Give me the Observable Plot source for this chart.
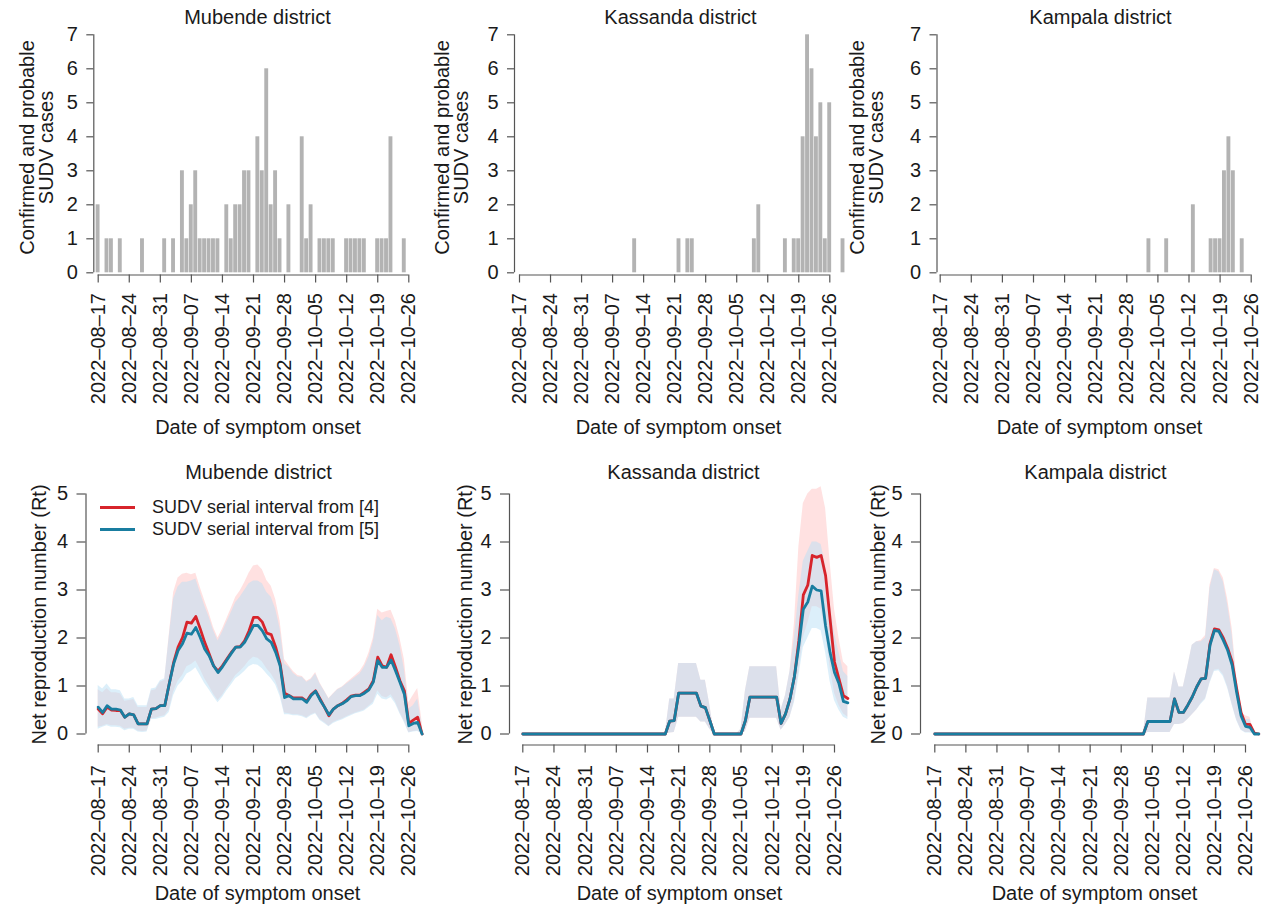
<!DOCTYPE html>
<html>
<head>
<meta charset="utf-8">
<script src="https://cdn.jsdelivr.net/npm/d3@7"></script>
<script src="https://cdn.jsdelivr.net/npm/@observablehq/plot@0.6"></script>
<style>
  body { margin: 0; background: #fff; }
  #root { position: relative; width: 1261px; height: 907px; overflow: hidden; background: #fff;
          font-family: "Liberation Sans", Arial, Helvetica, sans-serif; }
  #root svg { position: absolute; overflow: visible; }
  .legend { position: absolute; font-size: 18px; line-height: 22px; color: #1a1a1a; }
  .legend .row { display: flex; align-items: center; white-space: nowrap; }
  .legend .sw { display: inline-block; width: 35px; height: 3px; margin-right: 17px; }
</style>
</head>
<body>
<div id="root"></div>
<script>
// ---------------- DATA ----------------
const districts = ["Mubende district", "Kassanda district", "Kampala district"];
const tickLabels = ["2022-08-17","2022-08-24","2022-08-31","2022-09-07","2022-09-14","2022-09-21",
                    "2022-09-28","2022-10-05","2022-10-12","2022-10-19","2022-10-26"];
const seriesNames = ["SUDV serial interval from [4]", "SUDV serial interval from [5]"];

// Confirmed and probable cases by date of symptom onset
const mubendeCaseDates = ["2022-08-17","2022-08-19","2022-08-20","2022-08-22","2022-08-27","2022-09-01",
  "2022-09-03","2022-09-05","2022-09-06","2022-09-07","2022-09-08","2022-09-09","2022-09-10","2022-09-11",
  "2022-09-12","2022-09-13","2022-09-15","2022-09-16","2022-09-17","2022-09-18","2022-09-19","2022-09-20",
  "2022-09-22","2022-09-23","2022-09-24","2022-09-25","2022-09-26","2022-09-27","2022-09-29","2022-10-02",
  "2022-10-03","2022-10-04","2022-10-06","2022-10-07","2022-10-08","2022-10-09","2022-10-12","2022-10-13",
  "2022-10-14","2022-10-15","2022-10-16","2022-10-19","2022-10-20","2022-10-21","2022-10-22","2022-10-25"];
const mubendeCaseCounts = [2,1,1,1,1,1,
  1,3,1,2,3,1,1,1,
  1,1,2,1,2,2,3,3,
  4,3,6,2,3,1,2,4,
  1,2,1,1,1,1,1,1,
  1,1,1,1,1,1,4,1];

const kassandaCaseDates = ["2022-09-12","2022-09-22","2022-09-24","2022-09-25","2022-10-09","2022-10-10",
  "2022-10-16","2022-10-18","2022-10-19","2022-10-20","2022-10-21","2022-10-22","2022-10-23","2022-10-24",
  "2022-10-25","2022-10-26","2022-10-29"];
const kassandaCaseCounts = [1,1,1,1,1,2,
  1,1,1,4,7,6,4,5,
  1,5,1];

const kampalaCaseDates = ["2022-10-03","2022-10-07","2022-10-13","2022-10-17","2022-10-18","2022-10-19",
  "2022-10-20","2022-10-21","2022-10-22","2022-10-24"];
const kampalaCaseCounts = [1,1,2,1,1,1,3,4,3,1];

// Daily Rt estimates 2022-08-17 .. 2022-10-29 (74 days)
const rtFirstDate = "2022-08-17";
const rtLastDate = "2022-10-29";

// Mubende
const mubendeRed = [0.52,0.42,0.56,0.50,0.49,0.49,0.35,0.42,0.40,0.21,
  0.21,0.21,0.52,0.53,0.59,0.59,1.04,1.49,1.81,2.01,
  2.33,2.31,2.45,2.19,1.91,1.67,1.42,1.31,1.42,1.56,
  1.70,1.81,1.82,1.94,2.15,2.43,2.43,2.33,2.10,2.07,
  1.81,1.46,0.85,0.80,0.75,0.75,0.75,0.68,0.82,0.90,
  0.73,0.56,0.38,0.52,0.59,0.64,0.71,0.79,0.81,0.81,
  0.87,0.94,1.11,1.60,1.42,1.39,1.65,1.39,1.11,0.90,
  0.22,0.29,0.35,0.00];
const mubendeRedLo = [0.14,0.16,0.20,0.17,0.17,0.16,0.10,0.12,0.12,0.06,
  0.05,0.06,0.32,0.33,0.36,0.38,0.50,0.88,1.10,1.22,
  1.40,1.45,1.52,1.35,1.15,1.00,0.83,0.70,0.80,0.95,
  1.08,1.22,1.30,1.40,1.52,1.60,1.58,1.50,1.36,1.25,
  1.10,0.85,0.44,0.42,0.40,0.40,0.38,0.34,0.40,0.44,
  0.30,0.24,0.16,0.24,0.28,0.31,0.36,0.40,0.44,0.47,
  0.50,0.58,0.66,0.90,0.78,0.75,0.82,0.67,0.45,0.27,
  0.03,0.05,0.07,0.00];
const mubendeRedHi = [0.92,0.86,0.95,0.86,0.86,0.84,0.68,0.70,0.72,0.55,
  0.55,0.55,0.90,0.92,1.08,1.12,2.05,2.95,3.25,3.33,
  3.35,3.32,3.35,3.05,2.78,2.52,2.22,2.00,2.18,2.40,
  2.62,2.85,2.98,3.15,3.35,3.50,3.52,3.42,3.20,3.08,
  2.80,2.35,1.55,1.42,1.30,1.22,1.20,1.10,1.15,1.28,
  1.06,0.90,0.74,0.84,0.93,0.98,1.06,1.14,1.22,1.30,
  1.45,1.68,2.00,2.60,2.52,2.55,2.58,2.35,2.00,1.55,
  0.65,0.80,0.95,0.25];
const mubendeBlue = [0.56,0.45,0.59,0.52,0.52,0.50,0.35,0.42,0.40,0.21,
  0.21,0.21,0.52,0.53,0.59,0.59,1.04,1.46,1.74,1.88,
  2.10,2.08,2.22,2.01,1.77,1.63,1.42,1.28,1.40,1.54,
  1.68,1.81,1.81,1.91,2.08,2.26,2.26,2.15,1.98,1.91,
  1.70,1.42,0.76,0.80,0.73,0.73,0.73,0.66,0.80,0.89,
  0.71,0.56,0.40,0.52,0.59,0.63,0.69,0.78,0.80,0.80,
  0.85,0.92,1.08,1.53,1.39,1.39,1.54,1.32,1.08,0.83,
  0.17,0.22,0.24,0.00];
const mubendeBlueLo = [0.10,0.14,0.17,0.14,0.14,0.13,0.07,0.10,0.10,0.04,
  0.03,0.04,0.30,0.30,0.33,0.35,0.45,0.80,1.00,1.10,
  1.25,1.30,1.38,1.22,1.05,0.92,0.78,0.65,0.76,0.90,
  1.02,1.15,1.22,1.30,1.40,1.45,1.43,1.36,1.25,1.15,
  1.02,0.78,0.40,0.40,0.38,0.38,0.36,0.32,0.38,0.42,
  0.28,0.22,0.15,0.22,0.26,0.29,0.34,0.38,0.42,0.45,
  0.48,0.55,0.62,0.83,0.73,0.71,0.76,0.63,0.42,0.24,
  0.02,0.04,0.05,0.00];
const mubendeBlueHi = [1.01,0.94,1.04,0.92,0.92,0.90,0.73,0.73,0.76,0.59,
  0.59,0.59,0.94,0.96,1.11,1.15,2.01,2.81,3.06,3.16,
  3.16,3.19,3.23,2.95,2.67,2.43,2.15,1.94,2.12,2.33,
  2.53,2.74,2.85,2.99,3.13,3.19,3.19,3.13,2.95,2.85,
  2.60,2.19,1.46,1.39,1.26,1.19,1.18,1.08,1.13,1.25,
  1.04,0.89,0.73,0.83,0.92,0.97,1.04,1.11,1.18,1.25,
  1.39,1.60,1.91,2.47,2.36,2.43,2.40,2.19,1.84,1.35,
  0.52,0.59,0.73,0.17];

// Kassanda
const kassandaRed = [0,0,0,0,0,0,0,0,0,0,
  0,0,0,0,0,0,0,0,0,0,
  0,0,0,0,0,0,0,0,0,0,
  0,0,0,0.27,0.28,0.85,0.85,0.85,0.85,0.85,
  0.58,0.55,0.28,0,0,0,0,0,0,0,
  0.28,0.77,0.77,0.77,0.77,0.77,0.77,0.77,0.22,0.42,
  0.73,1.20,1.95,2.90,3.10,3.72,3.68,3.72,3.30,2.40,
  1.50,1.15,0.80,0.74];
const kassandaRedLo = [0,0,0,0,0,0,0,0,0,0,
  0,0,0,0,0,0,0,0,0,0,
  0,0,0,0,0,0,0,0,0,0,
  0,0,0,0.02,0.03,0.35,0.35,0.35,0.35,0.35,
  0.25,0.25,0.10,0,0,0,0,0,0,0,
  0.05,0.33,0.33,0.33,0.33,0.33,0.33,0.33,0.08,0.20,
  0.35,0.70,1.30,2.00,2.30,2.65,2.65,2.60,2.10,1.40,
  0.85,0.60,0.42,0.35];
const kassandaRedHi = [0,0,0,0,0,0,0,0,0,0,
  0,0,0,0,0,0,0,0,0,0,
  0,0,0,0,0,0,0,0,0,0,
  0,0,0,0.73,0.73,1.47,1.47,1.47,1.47,1.47,
  1.12,1.12,0.60,0,0,0,0,0,0,0.10,
  0.90,1.40,1.40,1.40,1.40,1.40,1.40,1.40,0.50,0.80,
  1.30,2.30,3.90,4.80,5.00,5.10,5.10,5.15,4.70,3.60,
  2.60,2.00,1.50,1.40];
const kassandaBlue = [0,0,0,0,0,0,0,0,0,0,
  0,0,0,0,0,0,0,0,0,0,
  0,0,0,0,0,0,0,0,0,0,
  0,0,0,0.27,0.28,0.85,0.85,0.85,0.85,0.85,
  0.58,0.55,0.28,0,0,0,0,0,0,0,
  0.28,0.77,0.77,0.77,0.77,0.77,0.77,0.77,0.22,0.42,
  0.73,1.20,1.85,2.60,2.75,3.08,3.00,2.98,2.25,1.70,
  1.28,1.05,0.68,0.65];
const kassandaBlueLo = [0,0,0,0,0,0,0,0,0,0,
  0,0,0,0,0,0,0,0,0,0,
  0,0,0,0,0,0,0,0,0,0,
  0,0,0,0.02,0.03,0.35,0.35,0.35,0.35,0.35,
  0.25,0.25,0.10,0,0,0,0,0,0,0,
  0.05,0.33,0.33,0.33,0.33,0.33,0.33,0.33,0.08,0.20,
  0.35,0.65,1.20,1.80,2.00,2.20,2.20,2.15,1.70,1.10,
  0.70,0.50,0.35,0.30];
const kassandaBlueHi = [0,0,0,0,0,0,0,0,0,0,
  0,0,0,0,0,0,0,0,0,0,
  0,0,0,0,0,0,0,0,0,0,
  0,0,0,0.73,0.73,1.47,1.47,1.47,1.47,1.47,
  1.12,1.12,0.60,0,0,0,0,0,0,0.10,
  0.90,1.40,1.40,1.40,1.40,1.40,1.40,1.40,0.50,0.80,
  1.30,2.00,2.90,3.60,3.80,4.00,4.00,3.95,3.50,2.70,
  2.10,1.70,1.30,1.20];

// Kampala
const kampalaRed = [0,0,0,0,0,0,0,0,0,0,
  0,0,0,0,0,0,0,0,0,0,
  0,0,0,0,0,0,0,0,0,0,
  0,0,0,0,0,0,0,0,0,0,
  0,0,0,0,0,0,0,0,0.26,0.26,
  0.26,0.26,0.26,0.26,0.73,0.45,0.45,0.60,0.77,0.98,
  1.15,1.16,1.88,2.19,2.17,2.00,1.78,1.50,0.95,0.45,
  0.20,0.20,0.02,0.00];
const kampalaRedLo = [0,0,0,0,0,0,0,0,0,0,
  0,0,0,0,0,0,0,0,0,0,
  0,0,0,0,0,0,0,0,0,0,
  0,0,0,0,0,0,0,0,0,0,
  0,0,0,0,0,0,0,0,0.03,0.03,
  0.03,0.03,0.03,0.03,0.20,0.20,0.22,0.30,0.40,0.50,
  0.64,0.74,1.08,1.33,1.35,1.24,0.98,0.62,0.30,0.09,
  0.03,0.03,0.00,0.00];
const kampalaRedHi = [0,0,0,0,0,0,0,0,0,0,
  0,0,0,0,0,0,0,0,0,0,
  0,0,0,0,0,0,0,0,0,0,
  0,0,0,0,0,0,0,0,0,0,
  0,0,0,0,0,0,0,0,0.75,0.75,
  0.75,0.75,0.75,0.75,1.29,0.98,0.98,1.40,1.85,1.92,
  1.95,2.05,3.10,3.45,3.42,3.25,2.80,2.20,1.20,0.45,
  0.38,0.35,0.00,0.00];
const kampalaBlue = [0,0,0,0,0,0,0,0,0,0,
  0,0,0,0,0,0,0,0,0,0,
  0,0,0,0,0,0,0,0,0,0,
  0,0,0,0,0,0,0,0,0,0,
  0,0,0,0,0,0,0,0,0.26,0.26,
  0.26,0.26,0.26,0.26,0.73,0.45,0.45,0.60,0.77,0.98,
  1.15,1.16,1.85,2.16,2.14,1.95,1.74,1.43,0.87,0.38,
  0.16,0.14,0.00,0.00];
const kampalaBlueLo = [0,0,0,0,0,0,0,0,0,0,
  0,0,0,0,0,0,0,0,0,0,
  0,0,0,0,0,0,0,0,0,0,
  0,0,0,0,0,0,0,0,0,0,
  0,0,0,0,0,0,0,0,0.03,0.03,
  0.03,0.03,0.03,0.03,0.20,0.20,0.22,0.30,0.40,0.50,
  0.62,0.72,1.05,1.30,1.32,1.20,0.95,0.60,0.28,0.08,
  0.02,0.02,0.00,0.00];
const kampalaBlueHi = [0,0,0,0,0,0,0,0,0,0,
  0,0,0,0,0,0,0,0,0,0,
  0,0,0,0,0,0,0,0,0,0,
  0,0,0,0,0,0,0,0,0,0,
  0,0,0,0,0,0,0,0,0.75,0.75,
  0.75,0.75,0.75,0.75,1.29,0.98,0.98,1.40,1.85,1.92,
  1.92,2.00,3.03,3.42,3.38,3.17,2.68,2.06,1.08,0.38,
  0.30,0.30,0.00,0.00];

// ---------------- STYLE / LAYOUT ----------------
const RED = "#d7242b";
const BLUE = "#197da0";
const BAR = "#b3b3b3";
const AX = "#555555";
const TXT = "#1a1a1a";
const FONT = "'Liberation Sans', Arial, Helvetica, sans-serif";

const parse = d3.utcParse("%Y-%m-%d");
const fmtTick = d => d3.utcFormat("%Y-%m-%d")(d).replace(/-/g, "\u2013");
const START = parse(tickLabels[0]);
const END = parse(tickLabels[tickLabels.length - 1]);
const tickDates = tickLabels.map(parse);
const rtDates = d3.utcDay.range(parse(rtFirstDate), d3.utcDay.offset(parse(rtLastDate), 1));

const root = document.getElementById("root");

const topRow = {top: 0, h: 440, yTop: 34.3, y0: 272.3, xAxisY: 274.5, yMax: 7, ytick: 7, xpad: 10,
  titleY: 17, xlabY: 427, ylabY: 147, ylab: "Confirmed and probable\nSUDV cases"};
const botRow = {top: 440, h: 467, yTop: 493.5, y0: 733.5, xAxisY: 744.5, yMax: 5, ytick: 9, xpad: 12,
  titleY: 472, xlabY: 893, ylabY: 614, ylab: "Net reproduction number (Rt)"};

const topCols = [
  {left: 0,   w: 420, yAxisX: 93.3,  x0: 97.7,  x70: 408.3,  titleX: 257,  xlabX: 257.5, ylabX: 36.5},
  {left: 420, w: 420, yAxisX: 514,   x0: 519,   x70: 829.3,  titleX: 680,  xlabX: 678,   ylabX: 451.5},
  {left: 840, w: 421, yAxisX: 936.5, x0: 939.7, x70: 1250.7, titleX: 1100, xlabX: 1099,  ylabX: 866.5}
];
const botCols = [
  {left: 0,   w: 420, yAxisX: 85.5,  x0: 97.7,  x70: 408.3,  titleX: 258,  xlabX: 257,  ylabX: 39},
  {left: 420, w: 420, yAxisX: 509,   x0: 522.3, x70: 834,    titleX: 683,  xlabX: 679,  ylabX: 465},
  {left: 840, w: 421, yAxisX: 920,   x0: 934.3, x70: 1245,   titleX: 1095, xlabX: 1094, ylabX: 878}
];

function makePanel(row, col, title, dataMarks) {
  const g = {...row, ...col};
  const fcx = (g.yAxisX + g.x70) / 2;        // frame center x (absolute)
  const fcy = (g.yTop + g.xAxisY) / 2;       // frame center y (absolute)
  const svg = Plot.plot({
    width: g.w,
    height: g.h,
    marginLeft: g.yAxisX - g.left,
    marginRight: g.left + g.w - g.x70,
    marginTop: g.yTop - g.top,
    marginBottom: g.top + g.h - g.xAxisY,
    x: {type: "utc", domain: [START, END], insetLeft: g.x0 - g.yAxisX},
    y: {domain: [0, g.yMax], insetBottom: g.xAxisY - g.y0},
    style: {fontFamily: FONT, fontSize: "20px", color: TXT, background: "transparent", overflow: "visible"},
    marks: [
      ...dataMarks,
      Plot.ruleX([START], {y1: () => 0, y2: () => g.yMax, dx: g.yAxisX - g.x0, stroke: AX, strokeWidth: 1.2}),
      Plot.ruleY([0], {x1: () => START, x2: () => END, dy: g.xAxisY - g.y0, stroke: AX, strokeWidth: 1.2}),
      Plot.axisY({ticks: d3.range(g.yMax + 1), tickSize: g.ytick, tickPadding: 9,
                  tickFormat: d => String(d), label: null, stroke: AX, strokeWidth: 1.2, fontSize: 20}),
      Plot.axisX({ticks: tickDates, tickSize: 8, tickPadding: g.xpad, tickRotate: -90,
                  tickFormat: fmtTick, label: null, stroke: AX, strokeWidth: 1.2, fontSize: 20}),
      Plot.text([title], {frameAnchor: "top", dx: g.titleX - fcx, dy: g.titleY - g.yTop,
                          textAnchor: "middle", lineAnchor: "middle", fontSize: 20, fill: TXT}),
      Plot.text(["Date of symptom onset"], {frameAnchor: "bottom", dx: g.xlabX - fcx, dy: g.xlabY - g.xAxisY,
                          textAnchor: "middle", lineAnchor: "middle", fontSize: 20, fill: TXT}),
      Plot.text([g.ylab], {frameAnchor: "left", rotate: -90, dx: g.ylabX - g.yAxisX, dy: g.ylabY - fcy,
                          textAnchor: "middle", lineAnchor: "middle", fontSize: 20, lineHeight: 0.95, fill: TXT})
    ]
  });
  svg.style.left = g.left + "px";
  svg.style.top = g.top + "px";
  root.appendChild(svg);
}

function barMarks(dates, counts) {
  const rows = dates.map((d, i) => ({date: parse(d), n: counts[i]}));
  return [Plot.rectY(rows, {
    x1: d => d3.utcHour.offset(d.date, -10.8),
    x2: d => d3.utcHour.offset(d.date, 10.8),
    y: "n", fill: BAR
  })];
}

function rtMarks(red, redLo, redHi, blue, blueLo, blueHi) {
  const rows = rtDates.map((date, i) => ({date, red: red[i], redLo: redLo[i], redHi: redHi[i],
                                          blue: blue[i], blueLo: blueLo[i], blueHi: blueHi[i]}));
  return [
    Plot.areaY(rows, {x: "date", y1: "redLo", y2: "redHi", fill: "rgb(255,179,179)", fillOpacity: 0.4}),
    Plot.areaY(rows, {x: "date", y1: "blueLo", y2: "blueHi", fill: "rgb(185,223,245)", fillOpacity: 0.5}),
    Plot.line(rows, {x: "date", y: "red", stroke: RED, strokeWidth: 2.8}),
    Plot.line(rows, {x: "date", y: "blue", stroke: BLUE, strokeWidth: 2.8})
  ];
}

makePanel(topRow, topCols[0], districts[0], barMarks(mubendeCaseDates, mubendeCaseCounts));
makePanel(topRow, topCols[1], districts[1], barMarks(kassandaCaseDates, kassandaCaseCounts));
makePanel(topRow, topCols[2], districts[2], barMarks(kampalaCaseDates, kampalaCaseCounts));

makePanel(botRow, botCols[0], districts[0],
  rtMarks(mubendeRed, mubendeRedLo, mubendeRedHi, mubendeBlue, mubendeBlueLo, mubendeBlueHi));
makePanel(botRow, botCols[1], districts[1],
  rtMarks(kassandaRed, kassandaRedLo, kassandaRedHi, kassandaBlue, kassandaBlueLo, kassandaBlueHi));
makePanel(botRow, botCols[2], districts[2],
  rtMarks(kampalaRed, kampalaRedLo, kampalaRedHi, kampalaBlue, kampalaBlueLo, kampalaBlueHi));

// Legend (Mubende Rt panel)
const legend = document.createElement("div");
legend.className = "legend";
legend.style.left = "100px";
legend.style.top = "496px";
[RED, BLUE].forEach((c, i) => {
  const row = document.createElement("div");
  row.className = "row";
  const sw = document.createElement("span");
  sw.className = "sw";
  sw.style.background = c;
  row.appendChild(sw);
  row.appendChild(document.createTextNode(seriesNames[i]));
  legend.appendChild(row);
});
root.appendChild(legend);
</script>
</body>
</html>
